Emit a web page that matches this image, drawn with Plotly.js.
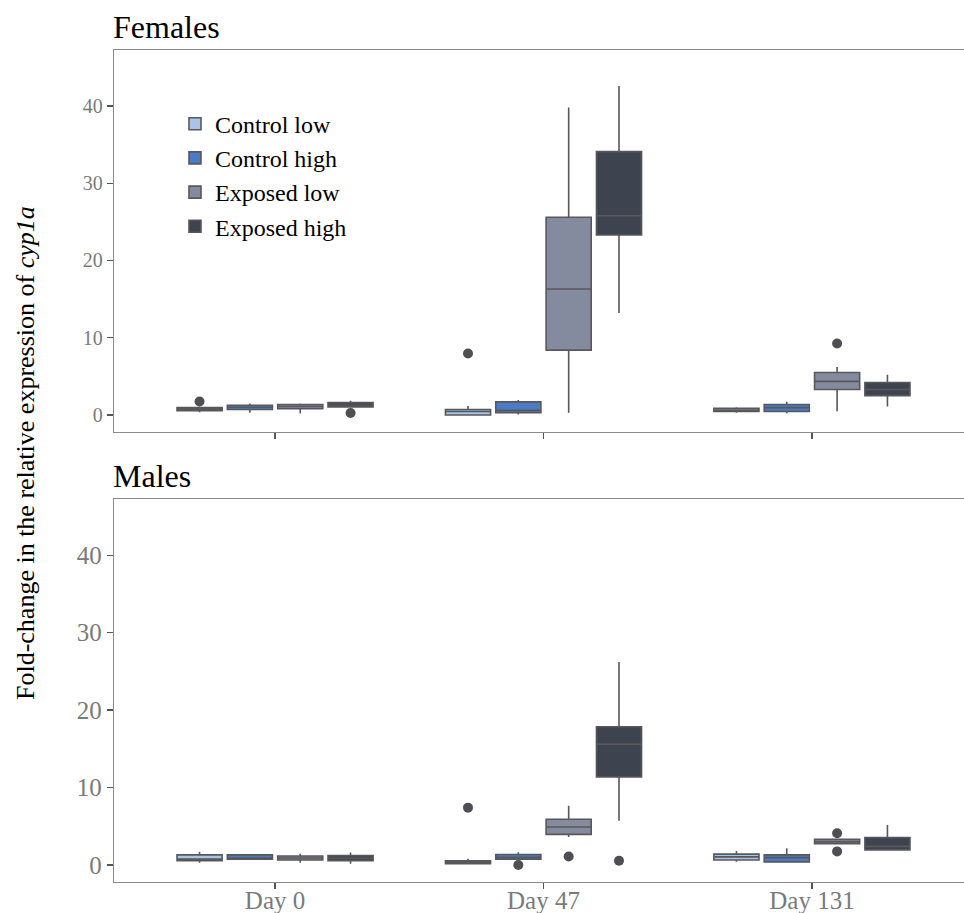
<!DOCTYPE html>
<html>
<head>
<meta charset="utf-8">
<script src="https://cdn.plot.ly/plotly-3.0.1.min.js"></script>
<style>html,body{margin:0;padding:0;overflow:hidden;background:#fff;}</style>
</head>
<body>
<div id="chart"></div>
<script>
// Categories and groups
const days = ["Day 0", "Day 47", "Day 131"];
const groups = ["Control low", "Control high", "Exposed low", "Exposed high"];
const colors = ["#a9c4e6", "#4a7bc4", "#858b9e", "#3e4350"];

// Females: per group, values for [Day 0, Day 47, Day 131]
const femLower  = [[0.35, 0.0, 0.3], [0.3, 0.05, 0.22], [0.2, 0.3, 0.47], [1.0, 13.2, 1.1]];
const femQ1     = [[0.55, 0.0, 0.45], [0.7, 0.3, 0.45], [0.8, 8.4, 3.3], [1.05, 23.3, 2.5]];
const femMedian = [[0.75, 0.45, 0.6], [1.0, 0.6, 0.95], [1.1, 16.3, 4.35], [1.3, 25.8, 3.3]];
const femQ3     = [[0.95, 0.7, 0.85], [1.25, 1.7, 1.35], [1.35, 25.6, 5.5], [1.6, 34.1, 4.2]];
const femUpper  = [[1.1, 1.15, 1.0], [1.5, 1.95, 1.7], [1.5, 39.8, 6.2], [1.85, 42.6, 5.2]];
const femOutX   = [[0, 1], [], [2], [0]];
const femOutY   = [[1.75, 7.95], [], [9.25], [0.25]];

// Males
const malLower  = [[0.3, 0.17, 0.4], [0.7, 0.7, 0.3], [0.3, 3.6, 2.75], [0.15, 5.7, 1.95]];
const malQ1     = [[0.55, 0.17, 0.65], [0.75, 0.75, 0.4], [0.65, 3.95, 2.75], [0.55, 11.35, 1.95]];
const malMedian = [[0.75, 0.35, 1.05], [0.85, 1.0, 0.95], [0.9, 4.9, 3.0], [0.85, 15.6, 2.4]];
const malQ3     = [[1.3, 0.55, 1.4], [1.3, 1.35, 1.3], [1.15, 5.9, 3.3], [1.2, 17.85, 3.55]];
const malUpper  = [[1.7, 0.8, 1.8], [1.35, 1.65, 2.15], [1.45, 7.65, 3.3], [1.6, 26.2, 5.15]];
const malOutX   = [[1], [1], [1, 2, 2], [1]];
const malOutY   = [[7.4], [0.0], [1.1, 4.1, 1.75], [0.55]];

const slot = 0.1875, boxW = 0.168;
const lineCol = "#58585c";
const traces = [];

function addPanel(lower, q1, med, q3, upper, outX, outY, xa, ya, legend) {
  groups.forEach((g, i) => {
    const off = (i - 1.5) * slot;
    traces.push({
      type: "box", name: g, legendgroup: g, showlegend: legend,
      x: days.map((d, k) => k + off),
      q1: q1[i], median: med[i], q3: q3[i],
      lowerfence: lower[i], upperfence: upper[i],
      width: boxW, whiskerwidth: 0,
      fillcolor: colors[i],
      line: {color: lineCol, width: 1.6},
      boxpoints: false, hoverinfo: "skip",
      xaxis: xa, yaxis: ya
    });
    if (outX[i].length) {
      traces.push({
        type: "scatter", mode: "markers", showlegend: false, hoverinfo: "skip",
        x: outX[i].map(k => k + off), y: outY[i],
        marker: {color: "#4f4f53", size: 10},
        xaxis: xa, yaxis: ya
      });
    }
  });
}
addPanel(femLower, femQ1, femMedian, femQ3, femUpper, femOutX, femOutY, "x", "y", true);
addPanel(malLower, malQ1, malMedian, malQ3, malUpper, malOutX, malOutY, "x2", "y2", false);

const serif = "Liberation Serif, Times New Roman, serif";
const axisBase = {
  showgrid: false, zeroline: false, showline: true, mirror: true,
  linecolor: "#8a8a8a", linewidth: 1.2,
  ticks: "outside", ticklen: 6, tickcolor: "#555", tickwidth: 1.2
};
const xr = [-0.6, 2.6];
const yr = [-2.2, 47.25];

const layout = {
  width: 975, height: 913,
  margin: {l: 114, r: 2, t: 50, b: 31},
  paper_bgcolor: "#fff", plot_bgcolor: "#fff",
  showlegend: true,
  boxmode: "overlay",
  font: {family: serif, color: "#000"},
  xaxis: Object.assign({}, axisBase, {
    range: xr, tickvals: [0, 1, 2], ticktext: days, showticklabels: false,
    anchor: "y", domain: [0, 1]
  }),
  yaxis: Object.assign({}, axisBase, {
    range: yr, tickvals: [0, 10, 20, 30, 40], domain: [0.5409, 1],
    tickfont: {family: serif, size: 20, color: "#7a7a7a"}, anchor: "x"
  }),
  xaxis2: Object.assign({}, axisBase, {
    range: xr, tickvals: [0, 1, 2], ticktext: days, anchor: "y2", domain: [0, 1],
    tickfont: {family: serif, size: 25, color: "#7a7a7a"}, ticklabelstandoff: -10
  }),
  yaxis2: Object.assign({}, axisBase, {
    range: yr, tickvals: [0, 10, 20, 30, 40], domain: [0, 0.4603],
    tickfont: {family: serif, size: 25, color: "#7a7a7a"}, anchor: "x2"
  }),
  legend: {
    x: 0.071, y: 0.938, xanchor: "left", yanchor: "top",
    bgcolor: "rgba(0,0,0,0)", font: {family: serif, size: 24, color: "#000"},
    tracegroupgap: 0
  },
  annotations: [
    {text: "Females", xref: "paper", yref: "paper", x: 0, y: 1, xanchor: "left", yanchor: "bottom",
     yshift: 3, xshift: -3, showarrow: false, font: {family: serif, size: 32, color: "#000"}},
    {text: "Males", xref: "paper", yref: "paper", x: 0, y: 0.4603, xanchor: "left", yanchor: "bottom",
     yshift: 3, xshift: -3, showarrow: false, font: {family: serif, size: 32, color: "#000"}},
    {text: "Fold-change in the relative expression of <i>cyp1a</i>", xref: "paper", yref: "paper",
     x: -0.103, y: 0.515, xanchor: "center", yanchor: "middle", textangle: -90, showarrow: false,
     font: {family: serif, size: 26, color: "#000"}}
  ]
};

Plotly.newPlot("chart", traces, layout, {displayModeBar: false, staticPlot: true});
</script>
</body>
</html>
